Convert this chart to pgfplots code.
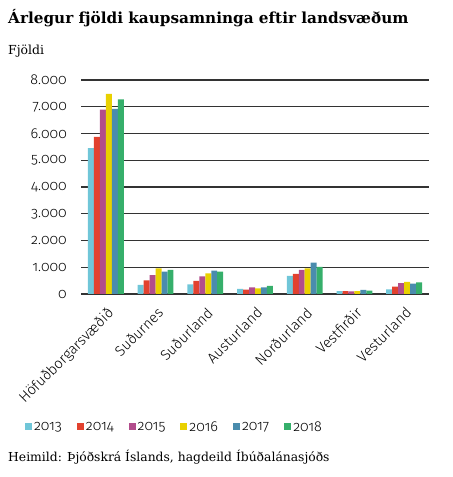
\documentclass[border=0pt]{standalone}
\usepackage{fontspec}
\setmainfont{DejaVu Serif}
\newfontfamily\sansf[Numbers=OldStyle]{Fira Sans Light}
\newfontfamily\titlef{DejaVu Serif}
\usepackage{pgfplots}
\pgfplotsset{compat=1.18}
\definecolor{cA}{HTML}{70C6D8}
\definecolor{cB}{HTML}{E2412E}
\definecolor{cC}{HTML}{B24D8C}
\definecolor{cD}{HTML}{E9D100}
\definecolor{cE}{HTML}{4A8CAD}
\definecolor{cF}{HTML}{36AF6B}
\pgfplotstableread{
x y2013 y2014 y2015 y2016 y2017 y2018
0 5450 5870 6890 7480 6920 7280
1 340 510 710 960 835 900
2 360 490 660 775 870 835
3 190 160 250 210 250 300
4 675 750 900 960 1170 1010
5 112 112 100 112 150 125
6 175 275 410 450 385 435
}\datatable
\begin{document}
\begin{tikzpicture}[x=1bp,y=1bp]
\useasboundingbox (0,0) rectangle (453,477);
\node[anchor=base west, inner sep=0, font=\titlef\bfseries\fontsize{15.3}{18}\selectfont] at (8,453) {Árlegur fjöldi kaupsamninga eftir landsvæðum};
\node[anchor=base west, inner sep=0, font=\fontsize{12.5}{15}\selectfont] at (8,422.7) {Fjöldi};
\node[anchor=base west, inner sep=0, font=\fontsize{12.4}{16}\selectfont] at (8,15.3) {Heimild: Þjóðskrá Íslands, hagdeild Íbúðalánasjóðs};
\begin{axis}[
  at={(81bp,183bp)}, anchor=south west,
  scale only axis, width=348bp, height=214bp,
  ybar=0pt, bar width=0.12,
  xmin=-0.5, xmax=6.5, ymin=0, ymax=8000,
  xtick={0,...,6},
  xticklabels={Höfuðborgarsvæðið,Suðurnes,Suðurland,Austurland,Norðurland,Vestfirðir,Vesturland},
  ytick={0,1000,...,8000},
  yticklabels={0,1.000,2.000,3.000,4.000,5.000,6.000,7.000,8.000},
  axis line style={draw=none},
  major tick length=0pt,
  ymajorgrids, grid style={black!80, line width=1.1bp},
  yticklabel style={font=\sansf\fontsize{14.4}{14}\selectfont, anchor=east, inner sep=0pt, xshift=-14bp},
  xticklabel style={font=\sansf\fontsize{14.6}{14}\selectfont, rotate=45, anchor=north east, inner sep=0pt, xshift=-8bp, yshift=-9bp},
  legend columns=6,
  legend style={draw=none, fill=none, at={(-0.17,-0.6215)}, anchor=west,
    font=\sansf\fontsize{14.4}{14}\selectfont,
    /tikz/every even column/.append style={column sep=13bp}},
  legend image code/.code={\fill[#1] (0bp,-3.5bp) rectangle (7bp,3.5bp);},
]
\addplot[fill=cA, draw=none] table[x=x, y=y2013] {\datatable};
\addplot[fill=cB, draw=none] table[x=x, y=y2014] {\datatable};
\addplot[fill=cC, draw=none] table[x=x, y=y2015] {\datatable};
\addplot[fill=cD, draw=none] table[x=x, y=y2016] {\datatable};
\addplot[fill=cE, draw=none] table[x=x, y=y2017] {\datatable};
\addplot[fill=cF, draw=none] table[x=x, y=y2018] {\datatable};
\legend{2013,2014,2015,2016,2017,2018}
\end{axis}
\end{tikzpicture}
\end{document}
